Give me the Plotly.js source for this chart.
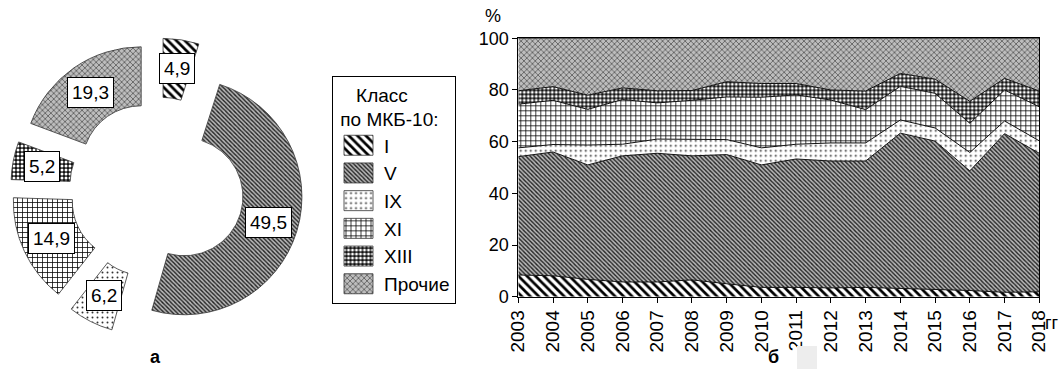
<!DOCTYPE html>
<html><head><meta charset="utf-8">
<script src="https://cdn.plot.ly/plotly-3.0.1.min.js"></script>
<style>html,body{margin:0;padding:0;background:#fff;} #chart{width:1064px;height:369px;}</style>
</head><body><div id="chart"></div>
<script>
// ---------- data ----------
const classes = ['I', 'V', 'IX', 'XI', 'XIII', 'Прочие'];
const pieValues = [4.9, 49.5, 6.2, 14.9, 5.2, 19.3];
const pieTexts = ['4,9', '49,5', '6,2', '14,9', '5,2', '19,3'];
const years = [2003, 2004, 2005, 2006, 2007, 2008, 2009, 2010, 2011, 2012, 2013, 2014, 2015, 2016, 2017, 2018];
const shareI    = [8.4, 8.1, 6.7, 5.7, 5.7, 6.5, 5.0, 3.6, 3.6, 3.4, 3.6, 3.2, 2.6, 2.4, 1.7, 1.9];
const shareV    = [45.8, 47.9, 44.3, 48.8, 49.8, 48.0, 50.0, 47.4, 49.7, 49.1, 48.9, 60.1, 57.6, 46.3, 61.4, 53.6];
const shareIX   = [3.4, 2.9, 7.7, 4.5, 5.5, 6.5, 5.8, 6.6, 5.7, 7.0, 7.0, 5.1, 5.1, 7.1, 4.9, 4.8];
const shareXI   = [16.9, 17.1, 13.8, 17.3, 14.0, 15.0, 16.5, 19.6, 19.1, 16.6, 12.9, 13.0, 13.4, 11.3, 12.0, 13.2];
const shareXIII = [5.2, 5.3, 5.5, 4.5, 4.7, 3.8, 5.9, 5.3, 4.4, 3.9, 7.2, 5.0, 5.5, 8.5, 4.5, 6.1];
const shareOther= [20.3, 18.7, 22.0, 19.2, 20.3, 20.2, 16.8, 17.5, 17.5, 20.0, 20.4, 13.6, 15.8, 24.4, 15.5, 20.4];
const yTicks = [0, 20, 40, 60, 80, 100];

// ---------- styles ----------
const FONT = 'Liberation Sans, Arial, Helvetica, sans-serif';
const patterns = [
  {shape: '\\', fgcolor: '#000000', bgcolor: '#ffffff', size: 6, solidity: 0.45},
  {shape: '\\', fgcolor: '#222222', bgcolor: '#b8b8b8', size: 3, solidity: 0.45},
  {shape: '.',  fgcolor: '#333333', bgcolor: '#ffffff', size: 5, solidity: 0.12},
  {shape: '+',  fgcolor: '#000000', bgcolor: '#ffffff', size: 5, solidity: 0.28},
  {shape: '.',  fgcolor: '#ffffff', bgcolor: '#111111', size: 4, solidity: 0.45},
  {shape: 'x',  fgcolor: '#404040', bgcolor: '#bdbdbd', size: 4, solidity: 0.3}
];
const pulls = [0.28, 0.23, 0.26, 0.25, 0.25, 0.25];
const hole = 0.5;
const pieDomain = {x: [0.0066, 0.2904], y: [0.0786, 0.897]};
const W = 1064, H = 369;

const shares = [shareI, shareV, shareIX, shareXI, shareXIII, shareOther];

const traces = [];
shares.forEach((s, i) => {
  traces.push({
    type: 'scatter', x: years, y: s, name: classes[i], stackgroup: 'one',
    mode: 'lines', line: {color: '#111', width: 1}, showlegend: false,
    fillcolor: patterns[i].bgcolor,
    fillpattern: Object.assign({fillmode: 'replace'}, patterns[i]),
    hoverinfo: 'skip', xaxis: 'x', yaxis: 'y'
  });
});

traces.push({
  type: 'pie', labels: classes, values: pieValues, sort: false,
  direction: 'clockwise', rotation: 0, hole: hole, pull: pulls,
  domain: pieDomain, textinfo: 'none', hoverinfo: 'skip',
  marker: {
    colors: patterns.map(p => p.bgcolor),
    line: {color: '#333', width: 0.8},
    pattern: {
      shape: patterns.map(p => p.shape),
      fgcolor: patterns.map(p => p.fgcolor),
      bgcolor: patterns.map(p => p.bgcolor),
      size: patterns.map(p => p.size),
      solidity: patterns.map(p => p.solidity),
      fillmode: 'replace'
    }
  },
  showlegend: true
});

// label positions derived from the pie geometry
const total = pieValues.reduce((a, b) => a + b, 0);
const boxW = W * (pieDomain.x[1] - pieDomain.x[0]);
const boxH = H * (pieDomain.y[1] - pieDomain.y[0]);
const rPie = Math.min(boxW, boxH) / 2 / (1 + Math.max(...pulls));
const cxPie = W * (pieDomain.x[0] + pieDomain.x[1]) / 2;
const cyPie = H * (1 - (pieDomain.y[0] + pieDomain.y[1]) / 2);
const annotations = [];
let cum = 0;
pieValues.forEach((v, i) => {
  const mid = (cum + v / 2) / total * 2 * Math.PI;
  cum += v;
  const rr = rPie * ((1 + hole) / 2 + pulls[i]);
  const px = cxPie + rr * Math.sin(mid);
  const py = cyPie - rr * Math.cos(mid);
  annotations.push({
    xref: 'paper', yref: 'paper', x: px / W, y: 1 - py / H, xanchor: 'center', yanchor: 'middle',
    text: pieTexts[i], showarrow: false, bgcolor: '#fff', bordercolor: '#000',
    borderwidth: 1, borderpad: 4, font: {family: FONT, size: 19, color: '#000'}
  });
});

const txt = (x, y, t, xa) => ({xref: 'paper', yref: 'paper', x: x / W, y: 1 - y / H,
  xanchor: xa || 'center', yanchor: 'middle', text: t, showarrow: false,
  font: {family: FONT, size: 18, color: '#000'}});
annotations.push(
  txt(493, 16, '%'),
  txt(1043, 323, 'гг', 'left'),
  txt(155, 357, '<b>а</b>'),
  txt(773, 357, '<b>б</b>')
);

const layout = {
  width: W, height: H, margin: {l: 0, r: 0, t: 0, b: 0},
  paper_bgcolor: '#fff', plot_bgcolor: '#fff',
  font: {family: FONT, color: '#000'},
  showlegend: true,
  legend: {
    x: 332 / W, y: 1 - 76 / H, xanchor: 'left', yanchor: 'top',
    bordercolor: '#000', borderwidth: 1, bgcolor: '#fff',
    font: {family: FONT, size: 19, color: '#000'}, itemwidth: 41,
    title: {text: '&nbsp;&nbsp;&nbsp;&nbsp;Класс<br>&nbsp;по МКБ-10:', side: 'top',
            font: {family: FONT, size: 19, color: '#000'}},
    traceorder: 'normal'
  },
  xaxis: {
    domain: [518.3 / W, 1039.3 / W], range: [2003, 2018],
    tickmode: 'array', tickvals: years, ticktext: years.map(String), tickangle: -90,
    ticks: 'outside', ticklen: 5, tickcolor: '#000', tickwidth: 1,
    showline: true, linecolor: '#000', linewidth: 1, mirror: true,
    showgrid: false, zeroline: false, automargin: false,
    tickfont: {family: FONT, size: 19, color: '#000'}, anchor: 'y'
  },
  yaxis: {
    domain: [1 - 296.7 / H, 1 - 38.3 / H], range: [0, 100],
    tickmode: 'array', tickvals: yTicks,
    ticks: 'outside', ticklen: 5, tickcolor: '#000', tickwidth: 1,
    showline: true, linecolor: '#000', linewidth: 1, mirror: true,
    showgrid: false, zeroline: false, automargin: false,
    tickfont: {family: FONT, size: 18, color: '#000'}, anchor: 'x'
  },
  shapes: [
    {type: 'rect', xref: 'paper', yref: 'paper', x0: 797 / W, x1: 817 / W, y0: 0, y1: 1 - 346 / H,
     fillcolor: '#ededed', line: {width: 0}, layer: 'above'}
  ],
  annotations: annotations
};

function shiftOf(el) {
  const tr = el && el.getAttribute('transform');
  if (!tr) return 0;
  const m = tr.match(/translate\(\s*([-\d.]+)/);
  return m ? parseFloat(m[1]) : 0;
}

Plotly.newPlot('chart', traces, layout, {staticPlot: true, displayModeBar: false}).then(() => {
  // enlarge the legend swatches to the reference's rectangular size
  document.querySelectorAll('.legend g.traces').forEach(item => {
    const t = item.querySelector('text.legendtext');
    const p = item.querySelector('path.legendpie');
    if (!t || !p) return;
    const tx = parseFloat(t.getAttribute('x'));
    if (!isFinite(tx)) return;
    const g = p.closest('g.legendpoints');
    const ox = shiftOf(g) + shiftOf(p);
    const right = tx - 11 - ox, left = right - 29;
    p.setAttribute('d', 'M' + right + ',10H' + left + 'V-10H' + right + 'Z');
  });
});
</script>
</body></html>
